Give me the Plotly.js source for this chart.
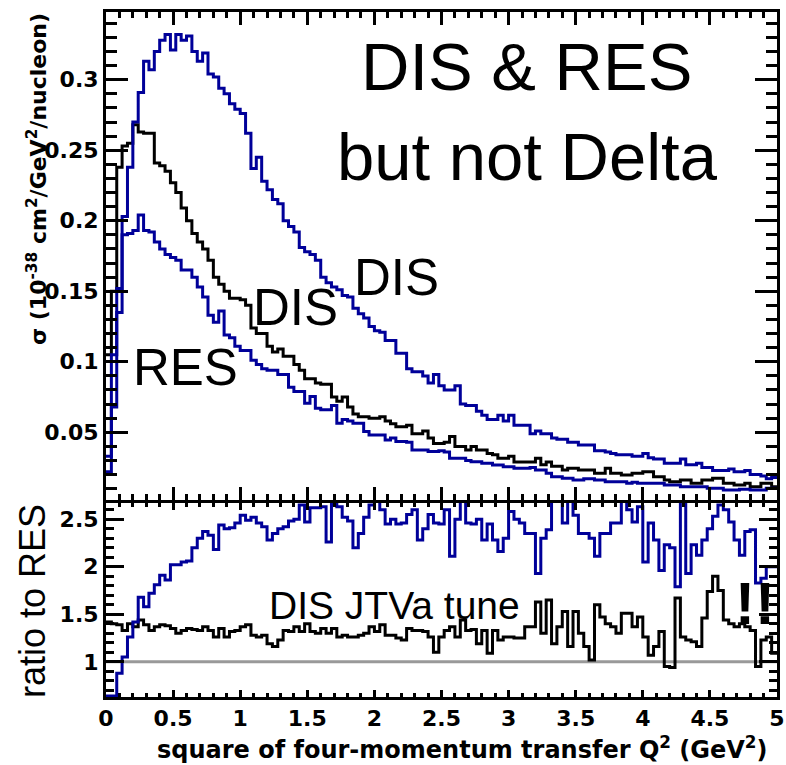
<!DOCTYPE html>
<html><head><meta charset="utf-8">
<script src="https://cdn.plot.ly/plotly-3.0.1.min.js"></script>
<style>html,body{margin:0;padding:0;background:#fff}</style>
</head><body><div id="plot" style="width:786px;height:765px"></div>
<script>
// 125 bins of width 0.04 in Q^2 from 0 to 5 (bin contents, left to right)
const binWidth = 0.04;
const disUpper = [
0.022,0.068,0.135,0.203,0.238,0.270,0.291,0.313,0.307,0.320,
0.328,0.332,0.321,0.332,0.328,0.331,0.320,0.313,0.319,0.304,
0.302,0.294,0.290,0.283,0.279,0.276,0.262,0.237,0.245,0.228,
0.222,0.215,0.212,0.200,0.196,0.192,0.181,0.178,0.176,0.172,
0.160,0.156,0.153,0.151,0.147,0.146,0.138,0.134,0.131,0.125,
0.122,0.121,0.115,0.115,0.106,0.106,0.095,0.093,0.093,0.090,
0.085,0.091,0.083,0.080,0.080,0.083,0.070,0.069,0.069,0.065,
0.062,0.059,0.059,0.062,0.058,0.062,0.055,0.055,0.055,0.049,
0.051,0.049,0.049,0.046,0.045,0.045,0.043,0.043,0.041,0.041,
0.041,0.037,0.037,0.036,0.035,0.034,0.034,0.034,0.033,0.033,
0.035,0.032,0.031,0.031,0.028,0.028,0.028,0.031,0.027,0.027,
0.028,0.025,0.025,0.023,0.023,0.023,0.024,0.022,0.022,0.023,
0.020,0.020,0.019,0.017,0.018];
const disTune = [
0.105,0.150,0.238,0.253,0.255,0.268,0.263,0.262,0.262,0.241,
0.239,0.235,0.227,0.220,0.209,0.200,0.191,0.185,0.180,0.172,
0.160,0.155,0.150,0.145,0.145,0.144,0.140,0.124,0.120,0.120,
0.111,0.107,0.109,0.104,0.104,0.098,0.094,0.088,0.088,0.085,
0.084,0.084,0.075,0.072,0.075,0.068,0.063,0.061,0.061,0.060,
0.060,0.061,0.058,0.056,0.054,0.054,0.055,0.049,0.049,0.051,
0.046,0.042,0.042,0.043,0.047,0.040,0.040,0.0375,0.040,0.0375,
0.0375,0.035,0.034,0.0316,0.0316,0.033,0.029,0.029,0.029,0.029,
0.0316,0.027,0.029,0.026,0.026,0.0233,0.0245,0.0245,0.0233,0.0233,
0.0233,0.0209,0.0209,0.0245,0.021,0.021,0.0197,0.0197,0.021,0.021,
0.022,0.022,0.0185,0.0185,0.0162,0.015,0.015,0.0162,0.0162,0.0138,
0.0138,0.0162,0.0162,0.0174,0.0174,0.0138,0.0138,0.0126,0.0126,0.0138,
0.0114,0.0114,0.0138,0.0138,0.0114];
const resVals = [
0.033,0.105,0.152,0.190,0.191,0.193,0.204,0.193,0.192,0.185,
0.180,0.176,0.174,0.172,0.165,0.165,0.160,0.153,0.146,0.133,
0.128,0.136,0.119,0.117,0.111,0.108,0.108,0.101,0.098,0.095,
0.094,0.094,0.091,0.091,0.082,0.079,0.079,0.0706,0.0753,0.067,
0.066,0.066,0.069,0.0564,0.059,0.058,0.0565,0.0565,0.0505,0.048,
0.048,0.048,0.0446,0.046,0.0434,0.0434,0.043,0.0375,0.0375,0.0375,
0.0363,0.0363,0.037,0.036,0.0316,0.0316,0.0316,0.030,0.0292,0.0292,
0.028,0.028,0.0268,0.0268,0.0256,0.0256,0.0245,0.0245,0.0245,0.025,
0.0233,0.0233,0.0209,0.0185,0.0185,0.0174,0.0174,0.0162,0.0162,0.017,
0.017,0.0162,0.0162,0.015,0.015,0.015,0.015,0.0138,0.0145,0.0138,
0.0138,0.0138,0.0138,0.0138,0.0126,0.0126,0.0126,0.0114,0.0114,0.0114,
0.0114,0.0114,0.0103,0.0103,0.0103,0.0091,0.0091,0.0091,0.0097,0.0097,
0.0091,0.0091,0.0091,0.0103,0.0103];
const ratioDis = [
0.64,0.64,0.88,1.05,1.26,1.42,1.68,1.58,1.72,1.81,
1.91,1.86,2.02,2.02,2.05,2.06,2.20,2.30,2.37,2.33,
2.18,2.44,2.40,2.41,2.46,2.54,2.49,2.52,2.46,2.42,
2.28,2.35,2.40,2.42,2.48,2.50,2.65,2.47,2.62,2.62,
2.63,2.26,2.66,2.63,2.52,2.48,2.20,2.35,2.52,2.65,
2.75,2.60,2.45,2.50,2.45,2.46,2.55,2.60,2.28,2.40,
2.55,2.46,2.45,2.60,2.11,2.50,2.75,2.46,2.45,2.50,
2.28,2.45,2.28,2.16,2.30,2.58,2.50,2.46,2.35,2.35,
1.93,2.30,2.39,2.75,2.70,2.46,2.75,2.54,2.35,2.35,
2.30,2.11,2.35,2.35,2.46,2.46,2.75,2.60,2.47,2.63,
2.05,2.46,2.28,1.96,2.23,2.20,1.79,2.70,1.93,2.23,
2.12,2.28,2.40,2.53,2.65,2.60,2.47,2.28,2.12,2.37,
2.39,1.83,1.88,2.00,2.00];
const ratioTune = [
1.42,1.40,1.39,1.33,1.40,1.37,1.44,1.39,1.33,1.37,
1.39,1.38,1.35,1.30,1.33,1.35,1.34,1.33,1.37,1.33,
1.26,1.35,1.26,1.32,1.33,1.37,1.39,1.28,1.26,1.28,
1.19,1.16,1.23,1.33,1.32,1.37,1.32,1.40,1.32,1.30,
1.35,1.30,1.35,1.26,1.28,1.26,1.26,1.28,1.30,1.37,
1.32,1.39,1.28,1.28,1.25,1.23,1.35,1.33,1.33,1.32,
1.26,1.10,1.26,1.33,1.37,1.26,1.44,1.33,1.34,1.19,
1.33,1.09,1.33,1.23,1.26,1.26,1.25,1.25,1.37,1.37,
1.63,1.30,1.65,1.19,1.37,1.53,1.16,1.53,1.30,1.16,
1.02,1.60,1.47,1.40,1.37,1.30,1.51,1.51,1.37,1.47,
1.26,1.07,1.16,1.32,0.95,0.94,1.67,1.26,1.23,1.21,
1.16,1.46,1.74,1.90,1.75,1.44,1.40,1.37,1.40,1.37,
1.33,0.95,1.23,1.26,1.09];
const xTicks = [0,0.5,1,1.5,2,2.5,3,3.5,4,4.5,5];
const xTickText = ['0','0.5','1','1.5','2','2.5','3','3.5','4','4.5','5'];

function edges(n){const e=[];for(let i=0;i<=n;i++)e.push(+(i*binWidth).toFixed(6));return e;}
function stepY(v){return v.concat([v[v.length-1]]);}

const BLUE='#000099';
const traces=[
 {x:[0,5],y:[1,1],xaxis:'x2',yaxis:'y2',mode:'lines',line:{color:'#999999',width:3},hoverinfo:'skip'},
 {x:edges(disTune.length),y:stepY(disTune),xaxis:'x',yaxis:'y',mode:'lines',line:{shape:'hv',color:'black',width:3}},
 {x:edges(disUpper.length),y:stepY(disUpper),xaxis:'x',yaxis:'y',mode:'lines',line:{shape:'hv',color:BLUE,width:3}},
 {x:edges(resVals.length),y:stepY(resVals),xaxis:'x',yaxis:'y',mode:'lines',line:{shape:'hv',color:BLUE,width:3}},
 {x:edges(ratioTune.length),y:stepY(ratioTune),xaxis:'x2',yaxis:'y2',mode:'lines',line:{shape:'hv',color:'black',width:3}},
 {x:edges(ratioDis.length),y:stepY(ratioDis),xaxis:'x2',yaxis:'y2',mode:'lines',line:{shape:'hv',color:BLUE,width:3}}
];
const tickFont={family:'DejaVu Sans',size:22,color:'black',weight:'bold'};
const common={showline:true,linewidth:3,linecolor:'black',mirror:'allticks',showgrid:false,zeroline:false,ticks:'inside',tickwidth:3,tickcolor:'black'};
const layout={
 width:786,height:765,margin:{l:106,r:9,t:12,b:68},
 paper_bgcolor:'white',plot_bgcolor:'white',showlegend:false,
 xaxis:Object.assign({},common,{domain:[0,1],anchor:'y',range:[0,5],tickvals:xTicks,showticklabels:false,ticklen:13,minor:{dtick:0.1,tick0:0,ticklen:6,tickwidth:3,tickcolor:'black',ticks:'inside'}}),
 yaxis:Object.assign({},common,{domain:[0.2876,1],anchor:'x',range:[0.002,0.348],dtick:0.05,tick0:0,ticklen:22,tickfont:tickFont,minor:{dtick:0.01,tick0:0,ticklen:11,tickwidth:3,tickcolor:'black',ticks:'inside'}}),
 xaxis2:Object.assign({},common,{domain:[0,1],anchor:'y2',range:[0,5],tickvals:xTicks,ticktext:xTickText,ticklen:7,tickfont:tickFont,minor:{dtick:0.1,tick0:0,ticklen:4,tickwidth:3,tickcolor:'black',ticks:'inside'}}),
 yaxis2:Object.assign({},common,{domain:[0,0.2832],anchor:'x2',range:[0.63,2.67],dtick:0.5,tick0:0,ticklen:18,tickfont:tickFont,minor:{dtick:0.1,tick0:0,ticklen:8,tickwidth:3,tickcolor:'black',ticks:'inside'}}),
 annotations:[
  {text:'DIS & RES',xref:'paper',yref:'paper',x:0.627,y:0.921,xanchor:'center',yanchor:'middle',showarrow:false,font:{family:'Liberation Sans',size:67,color:'black'}},
  {text:'but not Delta',xref:'paper',yref:'paper',x:0.6289,y:0.7884,xanchor:'center',yanchor:'middle',showarrow:false,font:{family:'Liberation Sans',size:67,color:'black'}},
  {text:'DIS',xref:'paper',yref:'paper',x:0.4322,y:0.6117,xanchor:'center',yanchor:'middle',showarrow:false,font:{family:'Liberation Sans',size:51,color:'black'}},
  {text:'DIS',xref:'paper',yref:'paper',x:0.2817,y:0.5679,xanchor:'center',yanchor:'middle',showarrow:false,font:{family:'Liberation Sans',size:51,color:'black'}},
  {text:'RES',xref:'paper',yref:'paper',x:0.1192,y:0.4803,xanchor:'center',yanchor:'middle',showarrow:false,font:{family:'Liberation Sans',size:51,color:'black'}},
  {text:'DIS JTVa tune',xref:'paper',yref:'paper',x:0.4307,y:0.1343,xanchor:'center',yanchor:'middle',showarrow:false,font:{family:'Liberation Sans',size:39,color:'black'}},
  {text:'!!',xref:'paper',yref:'paper',x:0.9672,y:0.1372,xanchor:'center',yanchor:'middle',showarrow:false,font:{family:'Liberation Sans',size:60,color:'black',weight:'bold'}},
  {text:'σ (10<sup>-38</sup> cm<sup>2</sup>/GeV<sup>2</sup>/nucleon)',xref:'paper',yref:'paper',x:-0.1028,y:0.7562,xanchor:'center',yanchor:'middle',textangle:-90,showarrow:false,font:{family:'DejaVu Sans',size:22,color:'black',weight:'bold'}},
  {text:'ratio to RES',xref:'paper',yref:'paper',x:-0.1103,y:0.1401,xanchor:'center',yanchor:'middle',textangle:-90,showarrow:false,font:{family:'Liberation Sans',size:36,color:'black'}},
  {text:'square of four-momentum transfer Q<sup>2</sup> (GeV<sup>2</sup>)',xref:'paper',yref:'paper',x:0.5306,y:-0.0745,xanchor:'center',yanchor:'middle',showarrow:false,font:{family:'DejaVu Sans',size:24,color:'black',weight:'bold'}}
 ]
};
Plotly.newPlot('plot',traces,layout,{staticPlot:true,displayModeBar:false});
</script></body></html>
